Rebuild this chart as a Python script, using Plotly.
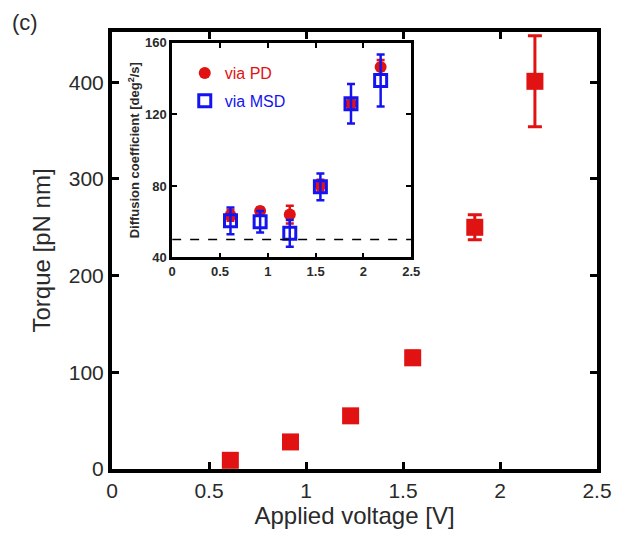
import plotly.graph_objects as go

# Main panel: torque vs applied voltage
voltage = [0.61, 0.92, 1.23, 1.55, 1.87, 2.18]
torque = [9, 28, 55, 115, 250, 401]
torque_err = [2, 3, 6, 7, 13, 47]

# Inset: diffusion coefficient from two methods
inset_voltage = [0.61, 0.92, 1.23, 1.55, 1.87, 2.18]
diff_pd = [63.5, 66, 64, 80.5, 126, 146.5]
diff_pd_err = [3, 2, 5, 3, 3, 4]
diff_msd = [60.5, 60, 53.5, 79.5, 126, 139]
diff_msd_err = [7.5, 6, 7.5, 7.5, 11, 14.5]
baseline = 50

RED = "#e01212"
BLUE = "#1414f0"
TXT = "#2a2a2a"
FONT = "Liberation Sans, Arial, sans-serif"

fig = go.Figure()

fig.add_trace(go.Scatter(
    x=voltage, y=torque, mode="markers", showlegend=False,
    marker=dict(symbol="square", size=17, color=RED),
    error_y=dict(type="data", array=torque_err, color=RED, thickness=3, width=7),
    xaxis="x", yaxis="y",
))

fig.add_trace(go.Scatter(
    x=inset_voltage, y=diff_pd, mode="markers", name="<span style='color:%s'>via PD</span>" % RED,
    legendgroup="pd",
    marker=dict(symbol="circle", size=12, color=RED),
    error_y=dict(type="data", array=diff_pd_err, color=RED, thickness=2.5, width=4),
    xaxis="x2", yaxis="y2",
))
fig.add_trace(go.Scatter(
    x=inset_voltage, y=diff_msd, mode="markers", name="<span style='color:%s'>via MSD</span>" % BLUE,
    legendgroup="msd",
    marker=dict(symbol="square-open", size=12, color=BLUE, line=dict(width=3, color=BLUE)),
    error_y=dict(type="data", array=diff_msd_err, color=BLUE, thickness=2.5, width=4),
    xaxis="x2", yaxis="y2",
))

# Reference level in the inset
fig.add_shape(type="line", xref="x2", yref="y2", x0=0, x1=2.5, y0=baseline, y1=baseline,
              line=dict(color="black", width=1.5, dash="dash"))

x_ticks = [0, 0.5, 1, 1.5, 2, 2.5]
x_labels = ["0", "0.5", "1", "1.5", "2", "2.5"]

fig.update_layout(
    width=632, height=537,
    margin=dict(l=112, r=35, t=32, b=63),
    paper_bgcolor="white", plot_bgcolor="white",
    font=dict(family=FONT, color=TXT),
    xaxis=dict(
        domain=[0, 1], range=[0, 2.5], tickvals=x_ticks, ticktext=x_labels,
        showline=True, linewidth=4, linecolor="black", mirror="ticks",
        ticks="inside", ticklen=7, tickwidth=3, tickcolor="black",
        showgrid=False, zeroline=False, tickfont=dict(size=21, color=TXT),
        title=dict(text="Applied voltage [V]", font=dict(size=24, color=TXT), standoff=6),
    ),
    yaxis=dict(
        domain=[0, 1], range=[0, 452], tickvals=[0, 100, 200, 300, 400],
        showline=True, linewidth=4, linecolor="black", mirror="ticks",
        ticks="inside", ticklen=7, tickwidth=3, tickcolor="black",
        showgrid=False, zeroline=False, tickfont=dict(size=21, color=TXT),
        title=dict(text="Torque [pN nm]", font=dict(size=24, color=TXT), standoff=12),
    ),
    xaxis2=dict(
        domain=[0.124, 0.617], range=[0, 2.5], tickvals=x_ticks, ticktext=x_labels,
        anchor="y2",
        showline=True, linewidth=2.5, linecolor="black", mirror="ticks",
        ticks="inside", ticklen=5, tickwidth=2, tickcolor="black",
        showgrid=False, zeroline=False,
        tickfont=dict(size=13, color=TXT, family=FONT, weight="bold"),
    ),
    yaxis2=dict(
        domain=[0.484, 0.975], range=[40, 160], tickvals=[40, 80, 120, 160],
        anchor="x2",
        showline=True, linewidth=2.5, linecolor="black", mirror="ticks",
        ticks="inside", ticklen=5, tickwidth=2, tickcolor="black",
        showgrid=False, zeroline=False,
        tickfont=dict(size=13, color=TXT, family=FONT, weight="bold"),
        title=dict(text="Diffusion coefficient [deg<sup>2</sup>/s]",
                   font=dict(size=13, color=TXT, weight="bold"), standoff=3),
    ),
    legend=dict(
        x=0.15, y=0.945, xanchor="left", yanchor="top",
        bgcolor="rgba(0,0,0,0)", borderwidth=0,
        font=dict(size=16, family=FONT),
        traceorder="grouped", tracegroupgap=4,
    ),
    annotations=[dict(
        text="(c)", xref="paper", yref="paper", x=-0.21, y=1.055,
        xanchor="left", yanchor="top", showarrow=False,
        font=dict(size=22, color=TXT),
    )],
)

fig.write_html("out.html")
